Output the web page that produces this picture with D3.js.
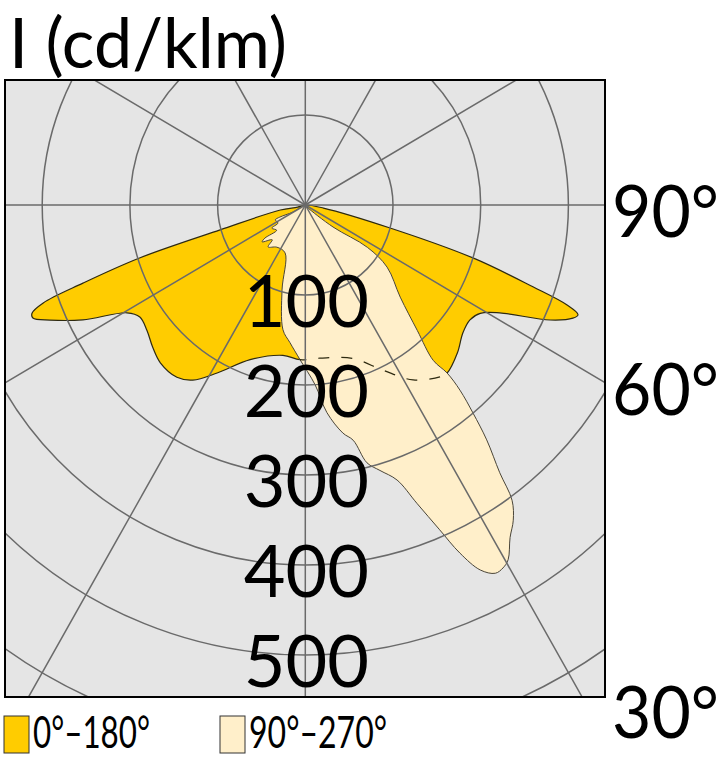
<!DOCTYPE html>
<html><head><meta charset="utf-8">
<script src="https://cdn.jsdelivr.net/npm/d3@7/dist/d3.min.js"></script>
<style>html,body{margin:0;padding:0;background:#fff;}svg{display:block;}</style>
</head><body>
<svg id="chart" width="725" height="758"></svg>
<script>
// ---- data (angle from nadir in degrees, positive to the right; intensity in cd/klm)
const titleText = "I (cd/klm)";
const c0Angles = [0, -75, -79.0, -74.1, -72.7, -71.1, -70.0, -68.9, -68.0, -66.3, -63.3, -59.5, -56.6, -52.4, -47.8, -43.3, -37.4, -33.4, -28.3, -20.1, -8.7, -2.0, 5.6, 17.7, 25.8, 32.3, 38.8, 40.9, 46.5, 51.7, 55.8, 58.9, 61.6, 65.4, 67.6, 68.6, 69.6, 70.7, 72.9, 75.2, 80.7];
const c0Values = [0, 9, 29, 101, 198, 268, 318, 334, 335, 318, 284, 236, 226, 228, 235, 241, 241, 233, 212, 183, 169, 172, 171, 179, 204, 230, 245, 247, 239, 229, 227, 233, 252, 307, 330, 334, 318, 275, 200, 100, 21];
const c90Angles = [0, -60.9, -65.2, -64.2, -57.3, -56.0, -49.3, -51.4, -50.2, -44.3, -42.3, -34.7, -23.4, -15.7, -10.4, -6.5, -2.0, 3.2, 6.1, 9.6, 11.8, 13.8, 16.1, 18.9, 21.0, 23.0, 24.5, 26.2, 27.9, 29.2, 30.4, 32.3, 34.1, 35.7, 36.7, 38.4, 39.6, 40.6, 40.9, 40.2, 42.5, 46.6, 53.5, 56.4, 52.3, 40.8];
const c90Values = [0, 16, 32, 38, 37, 46, 43, 59, 64, 54, 63, 57, 58, 98, 141, 154, 172, 200, 232, 257, 267, 295, 307, 323, 355, 392, 425, 452, 463, 462, 457, 437, 423, 404, 371, 333, 300, 271, 247, 226, 189, 149, 116, 85, 40, 3];
const ringValues = [100, 200, 300, 400, 500, 600];
const ringLabels = ["100", "200", "300", "400", "500"];
const spokeAngles = [0, 30, 60, 90, 120, 150, 180, 210, 240, 270, 300, 330];
const angleTickValues = [90, 60, 30];
const angleTickLabels = ["90°", "60°", "30°"];
const legendLabels = ["0°–180°", "90°–270°"];
const colors = ["#FFCC00", "#FFEFCA"];

// ---- layout
const svg = d3.select("#chart");
const plot = {x: 5, y: 80, w: 600, h: 617};
const cx = 305.3, cy = 205;
const rx = d3.scaleLinear().domain([0, 100]).range([0, 87.7]);
const ry = d3.scaleLinear().domain([0, 100]).range([0, 90]);
const rad = d => d * Math.PI / 180;
const px = (a, v) => cx + rx(v) * Math.sin(rad(a));
const py = (a, v) => cy + ry(v) * Math.cos(rad(a));
const font = "Lato, 'Open Sans', sans-serif";

const defs = svg.append("defs");
defs.append("clipPath").attr("id", "plotClip").append("rect")
  .attr("x", plot.x).attr("y", plot.y).attr("width", plot.w).attr("height", plot.h);

const toPts = (A, V) => A.map((a, i) => [px(a, V[i]), py(a, V[i])]);
const line = d3.line().curve(d3.curveCatmullRomClosed.alpha(0.5));
const c0Path = line(toPts(c0Angles, c0Values));
const c90Path = line(toPts(c90Angles, c90Values));
defs.append("clipPath").attr("id", "c90Clip").append("path").attr("d", c90Path);

const g = svg.append("g").attr("clip-path", "url(#plotClip)");
g.append("rect").attr("x", plot.x).attr("y", plot.y).attr("width", plot.w).attr("height", plot.h).attr("fill", "#E5E5E5");

g.append("path").attr("d", c0Path).attr("fill", colors[0]).attr("stroke", "#2e2a10").attr("stroke-width", 1.2);
g.append("path").attr("d", c90Path).attr("fill", colors[1]).attr("stroke", "#4a4538").attr("stroke-width", 1);
g.append("g").attr("clip-path", "url(#c90Clip)").append("path").attr("d", c0Path)
  .attr("fill", "none").attr("stroke", "#2e2a10").attr("stroke-width", 1.2).attr("stroke-dasharray", "11,12");

// grid
g.selectAll("ellipse.ring").data(ringValues).join("ellipse").attr("class", "ring")
  .attr("cx", cx).attr("cy", cy).attr("rx", d => rx(d)).attr("ry", d => ry(d))
  .attr("fill", "none").attr("stroke", "#6a6a6a").attr("stroke-width", 1.5);
g.selectAll("line.spoke").data(spokeAngles).join("line").attr("class", "spoke")
  .attr("x1", cx).attr("y1", cy)
  .attr("x2", d => px(d, 900)).attr("y2", d => py(d, 900))
  .attr("stroke", "#6a6a6a").attr("stroke-width", 1.5);

svg.append("rect").attr("x", plot.x).attr("y", plot.y).attr("width", plot.w).attr("height", plot.h)
  .attr("fill", "none").attr("stroke", "#000").attr("stroke-width", 2);

// ring labels
svg.selectAll("text.rl").data(ringLabels).join("text").attr("class", "rl")
  .attr("x", cx + 1).attr("y", d => cy + ry(+d) + 4)
  .attr("text-anchor", "middle").attr("dominant-baseline", "central")
  .attr("font-family", font).attr("font-size", 72).attr("fill", "#000").text(d => d);

// angle labels
const rightU = rx.invert(plot.x + plot.w - cx);
svg.selectAll("text.al").data(angleTickValues).join("text").attr("class", "al")
  .attr("x", 612)
  .attr("y", (d, i) => {
    const v = rightU / Math.tan(rad(d));
    const yy = d >= 90 ? cy : cy + ry(v);
    return Math.min(yy, 706) + 4;
  })
  .attr("dominant-baseline", "central")
  .attr("font-family", font).attr("font-size", 72).attr("fill", "#000")
  .attr("textLength", 107).attr("lengthAdjust", "spacingAndGlyphs")
  .text((d, i) => angleTickLabels[i]);

// title
svg.append("text").attr("x", 9).attr("y", 68).attr("font-family", font).attr("font-size", 69)
  .attr("textLength", 278).attr("lengthAdjust", "spacingAndGlyphs")
  .attr("fill", "#000").text(titleText);

// legend
const legX = [4, 220];
const legW = [117, 138];
legendLabels.forEach((t, i) => {
  svg.append("rect").attr("x", legX[i]).attr("y", 716).attr("width", 25).attr("height", 37)
    .attr("fill", colors[i]).attr("stroke", "#333").attr("stroke-width", 1);
  svg.append("text").attr("x", legX[i] + 29).attr("y", 748)
    .attr("font-family", font).attr("font-size", 44).attr("fill", "#000")
    .attr("textLength", legW[i]).attr("lengthAdjust", "spacingAndGlyphs").text(t);
});
</script>
</body></html>
